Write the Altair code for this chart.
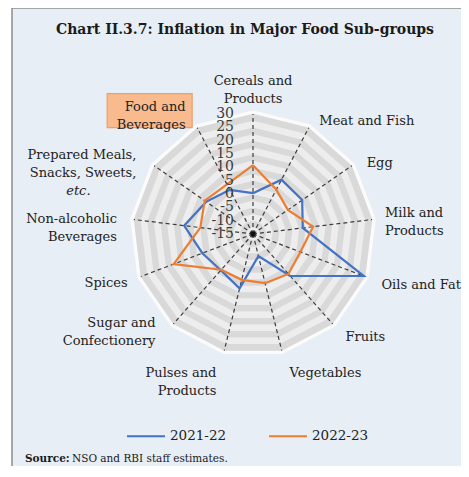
import altair as alt
import pandas as pd

# ---------------- data ----------------
categories = [
    "Cereals and Products", "Meat and Fish", "Egg", "Milk and Products",
    "Oils and Fats", "Fruits", "Vegetables", "Pulses and Products",
    "Sugar and Confectionery", "Spices", "Non-alcoholic Beverages",
    "Prepared Meals, Snacks, Sweets, etc.", "Food and Beverages",
]
category_labels = [
    "Cereals and\nProducts", "Meat and Fish", "Egg", "Milk and\nProducts",
    "Oils and Fats", "Fruits", "Vegetables", "Pulses and\nProducts",
    "Sugar and\nConfectionery", "Spices", "Non-alcoholic\nBeverages",
    "Prepared Meals,\nSnacks, Sweets,", "Food and\nBeverages",
]
series_names = ["2021-22", "2022-23"]
values_2021_22 = [0.3, 8.0, 7.4, 3.8, 29.4, 6.0, -6.5, 6.0, 3.2, 5.3, 11.0, 6.3, 3.7]
values_2022_23 = [10.8, 3.8, 0.9, 7.7, 4.0, 5.0, 4.0, 2.7, 2.9, 16.8, 4.9, 7.0, 6.0]
radial_ticks = [-15, -10, -5, 0, 5, 10, 15, 20, 25, 30]
axis_min, axis_max = -15, 30

title_text = "Chart II.3.7: Inflation in Major Food Sub-groups"
source_bold = "Source:"
source_rest = "NSO and RBI staff estimates."
etc_text = "etc."

series_colors = ["#4472c4", "#ed7d31"]

# ---------------- geometry ----------------
N = len(categories)
R = axis_max - axis_min          # outer radius in data units
PX = 120.0 / R                   # pixels per unit
W, H = 449, 458
CX, CY = 241, 226
xs = alt.Scale(domain=[-CX / PX, (W - CX) / PX], nice=False, zero=False)
ys = alt.Scale(domain=[-(H - CY) / PX, CY / PX], nice=False, zero=False)
ang = f"2*PI*datum.idx/{N}"
LH = 18

def X(f):
    return alt.X(f, type="quantitative", scale=xs, axis=None)

def Y(f):
    return alt.Y(f, type="quantitative", scale=ys, axis=None)

# background bands (polygon rings)
band_rows = []
n_bands = int(R / 2.5)
for b in range(n_bands):
    for i in range(N + 1):
        band_rows.append({"band": b, "i": i, "idx": i % N,
                          "rad": 2.5 * b + 1.25,
                          "shade": "#ededed" if b % 2 == 0 else "#d9d9d9"})
bands_df = pd.DataFrame(band_rows)

bands = alt.Chart(bands_df).transform_calculate(
    bx=f"datum.rad*sin({ang})", by=f"datum.rad*cos({ang})"
).mark_line(strokeWidth=6.7, strokeJoin="miter").encode(
    x=X("bx"), y=Y("by"), detail="band:N", order="i:Q",
    stroke=alt.Stroke("shade:N", scale=None),
)

edge_rows = []
for i in range(N + 1):
    edge_rows.append({"i": i, "idx": i % N, "rad": R + 0.7})
edge = alt.Chart(pd.DataFrame(edge_rows)).transform_calculate(
    bx=f"datum.rad*sin({ang})", by=f"datum.rad*cos({ang})"
).mark_line(strokeWidth=3.5, strokeJoin="miter", color="#fbfbfb").encode(
    x=X("bx"), y=Y("by"), order="i:Q",
)

# spokes
spokes = alt.Chart(pd.DataFrame({"idx": list(range(N))})).transform_calculate(
    x0="0", y0="0",
    x1=f"{R}*sin({ang})", y1=f"{R}*cos({ang})",
).mark_rule(strokeDash=[4, 3], color="#3c3c3c", strokeWidth=1.2).encode(
    x=X("x0"), y=Y("y0"), x2="x1:Q", y2="y1:Q",
)

center_dot = alt.Chart(pd.DataFrame({"k": [0]})).mark_point(
    filled=True, color="#111111", size=28, opacity=1
).encode(x=alt.X(datum=0, type="quantitative", scale=xs, axis=None),
         y=alt.Y(datum=0, type="quantitative", scale=ys, axis=None))

# radial tick labels
ticks = alt.Chart(pd.DataFrame({"t": radial_ticks})).transform_calculate(
    ty=f"datum.t - ({axis_min})", lab="toString(datum.t)"
).mark_text(align="right", baseline="middle", dx=-19, font="DejaVu Serif",
            fontSize=14, color="#3a3a3a").encode(
    x=alt.X(datum=0, type="quantitative", scale=xs, axis=None),
    y=Y("ty"), text="lab:N",
)

# series
rows = []
for name, vals in zip(series_names, [values_2021_22, values_2022_23]):
    for i in range(N + 1):
        j = i % N
        rows.append({"series": name, "category": categories[j], "idx": j,
                     "order": i, "value": vals[j]})
series_df = pd.DataFrame(rows)

lines = alt.Chart(series_df).transform_calculate(
    rr=f"datum.value - ({axis_min})",
    px=f"datum.rr*sin({ang})", py=f"datum.rr*cos({ang})",
).mark_line(strokeWidth=2.2, strokeJoin="miter").encode(
    x=X("px"), y=Y("py"), order="order:Q",
    color=alt.Color("series:N", scale=alt.Scale(domain=series_names, range=series_colors),
                    legend=alt.Legend(title=None, orient="none", legendX=114, legendY=408,
                                      direction="horizontal", symbolType="stroke",
                                      symbolSize=1444, symbolStrokeWidth=2,
                                      labelFont="DejaVu Serif", labelFontSize=13.5,
                                      labelColor="#222222", columnPadding=38,
                                      labelOffset=4)),
)

# category labels
lab_df = pd.DataFrame({"idx": list(range(N)), "label": category_labels})
LR = R + 4.5
lab_base = alt.Chart(lab_df).transform_calculate(
    lx=f"{LR}*sin({ang})", ly0=f"{LR}*cos({ang})",
    nl="length(split(datum.label, '\\n'))",
)
font = dict(font="DejaVu Serif", fontSize=13, color="#222222", lineBreak="\n", lineHeight=LH)

def lab_layer(filter_expr, shift, **kw):
    # shift: how many pixels per extra line the block is lifted
    return lab_base.transform_filter(filter_expr).transform_calculate(
        ly=f"datum.ly0 + {shift}*(datum.nl-1)/{PX}"
    ).mark_text(**font, **kw).encode(x=X("lx"), y=Y("ly"), text="label:N")

lab_top = lab_layer("datum.idx == 0", LH, align="center", baseline="bottom", dy=4)
lab_right = lab_layer("datum.idx == 1 || datum.idx == 2 || datum.idx == 4 || datum.idx == 5",
                      LH / 2, align="left", baseline="middle", dx=5, dy=4)
lab_milk = lab_layer("datum.idx == 3", LH / 2, align="left", baseline="middle", dx=1, dy=4)
lab_bl = lab_layer("datum.idx == 6", 0, align="left", baseline="top", dx=5, dy=5)
lab_br = lab_layer("datum.idx == 7", 0, align="right", baseline="top", dx=-5, dy=5)
lab_sugar = lab_layer("datum.idx == 8", LH / 2, align="right", baseline="middle", dx=-10, dy=-1)
lab_spice = lab_layer("datum.idx == 9", LH / 2, align="right", baseline="middle", dx=-2, dy=2)
lab_nab = lab_layer("datum.idx == 10", LH / 2, align="right", baseline="middle", dx=-5, dy=10)
lab_prep = lab_layer("datum.idx == 11", LH / 2, align="right", baseline="middle", dx=-8, dy=5)
lab_etc = lab_base.transform_filter("datum.idx == 11").transform_calculate(
    e=f"'{etc_text}'").mark_text(
    font="DejaVu Serif", fontSize=13, fontStyle="italic", color="#222222",
    align="center", baseline="middle", dx=-66, dy=32).encode(x=X("lx"), y=Y("ly0"), text="e:N")

box = lab_base.transform_filter("datum.idx == 12").mark_point(
    shape="M-1.25,-0.5H1.25V0.5H-1.25Z", size=4624, filled=True, fill="#f9bb8e",
    stroke="#e8a070", strokeWidth=1.2, opacity=1, xOffset=-42, yOffset=-6.5,
).encode(x=X("lx"), y=Y("ly0"))
lab_food = lab_layer("datum.idx == 12", LH / 2, align="right", baseline="middle", dx=-6, dy=-1)

# text: title, source
title = alt.Chart(pd.DataFrame({"t": [title_text]})).mark_text(
    font="DejaVu Serif", fontSize=14, fontWeight="bold", color="#1a1a1a",
    align="center", baseline="middle").encode(x=alt.value(233), y=alt.value(22), text="t:N")
src1 = alt.Chart(pd.DataFrame({"t": [source_bold]})).mark_text(
    font="DejaVu Serif", fontSize=10.5, fontWeight="bold", color="#1a1a1a",
    align="left", baseline="middle").encode(x=alt.value(13), y=alt.value(451), text="t:N")
src2 = alt.Chart(pd.DataFrame({"t": [source_rest]})).mark_text(
    font="DejaVu Serif", fontSize=10.5, color="#1a1a1a",
    align="left", baseline="middle").encode(x=alt.value(60), y=alt.value(451), text="t:N")

frame_left = alt.Chart(pd.DataFrame({"k": [0]})).mark_rule(color="#8c8c8c", strokeWidth=1.5).encode(
    x=alt.value(0), y=alt.value(0), y2=alt.value(H))
frame_top = alt.Chart(pd.DataFrame({"k": [0]})).mark_rule(color="#8c8c8c", strokeWidth=1.5).encode(
    x=alt.value(0), x2=alt.value(W), y=alt.value(0))

chart = alt.layer(
    edge, bands, spokes, center_dot, lines, ticks,
    lab_top, lab_right, lab_milk, lab_bl, lab_br, lab_sugar, lab_spice, lab_nab,
    lab_prep, lab_etc, box, lab_food, title, src1, src2, frame_left, frame_top,
).properties(
    width=W, height=H, background="white",
    padding={"left": 4, "top": 0, "right": 0, "bottom": 0},
    autosize=alt.AutoSizeParams(type="none"),
).configure_view(fill="#e8eef5", stroke=None)

chart.save("out.html", embed_options={"renderer": "svg", "actions": False})
